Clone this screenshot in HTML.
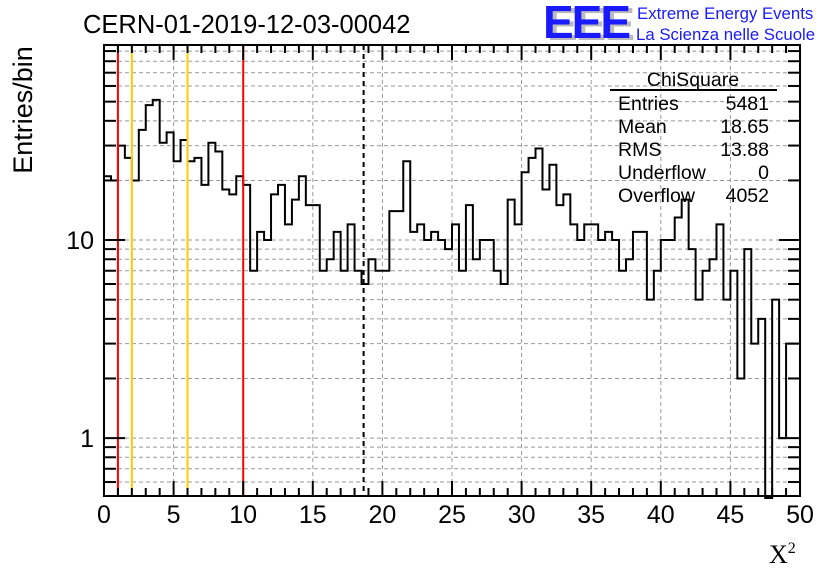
<!DOCTYPE html>
<html><head><meta charset="utf-8"><style>
html,body{margin:0;padding:0;background:#fff;}
svg{display:block;font-family:"Liberation Sans",sans-serif;}
</style></head><body>
<svg id="c" width="836" height="572" viewBox="0 0 836 572">
<text x="83" y="33" font-size="25.5">CERN-01-2019-12-03-00042</text>
<g>
<text x="547" y="40" font-size="46" font-weight="bold" fill="#bbb" letter-spacing="-2">EEE</text>
<text x="543" y="38" font-size="46" font-weight="bold" fill="#1a1aff" letter-spacing="-2">EEE</text>
<text x="637" y="19" font-size="16.8" fill="#1a1aff">Extreme Energy Events</text>
<text x="636" y="40" font-size="16.8" fill="#1a1aff">La Scienza nelle Scuole</text>
</g>
<g id="grid"></g>
<g id="marks"></g>
<g id="axes"></g>
<g font-size="19.5">
<text x="693" y="86" text-anchor="middle">ChiSquare</text>
<line x1="610" y1="90" x2="777" y2="90" stroke="#000" stroke-width="2"/>
<text x="618" y="110">Entries</text><text x="769" y="110" text-anchor="end">5481</text>
<text x="618" y="133">Mean</text><text x="769" y="133" text-anchor="end">18.65</text>
<text x="618" y="156">RMS</text><text x="769" y="156" text-anchor="end">13.88</text>
<text x="618" y="179">Underflow</text><text x="769" y="179" text-anchor="end">0</text>
<text x="618" y="202">Overflow</text><text x="769" y="202" text-anchor="end">4052</text>
</g>
<text x="32" y="110" font-size="27" transform="rotate(-90 32 110)" text-anchor="middle">Entries/bin</text>
<text x="769" y="563" font-size="26" font-family="Liberation Serif, serif">X<tspan font-size="16" dy="-10">2</tspan></text>
</svg>
<script>
const counts=[21,20,30,26,20,36,48,51,31,35,25,32,25,26,19,31,28,18,17,21,19,7,11,10,17,19,12,16,21,15,15,7,8,11,7,12,7,6,8,7,7,14,14,25,11,12,10,11,10,9,12,7,15,8,10,10,7,6,16,12,22,26,29,18,24,15,17,12,10,12,12,10,11,10,7,8,11,11,5,7,10,10,13,16,9,5,7,8,12,5,7,2,9,3,4,0,5,1,3,3];
const xMin=0, xMax=50, binW=0.5;
const xTicks=[0,5,10,15,20,25,30,35,40,45,50];
const yTickLabels=[1,10];
const redCuts=[1,10];
const yellowCuts=[2,6];
const meanVal=18.65;
const L=104,R=800,T=45,B=496,yMinV=0.51,yMaxV=96.6;
const X=v=>L+(v-xMin)/(xMax-xMin)*(R-L);
const Y=v=>B-(Math.log10(v)-Math.log10(yMinV))/(Math.log10(yMaxV)-Math.log10(yMinV))*(B-T);
const NS="http://www.w3.org/2000/svg";
function mk(p,t,a){const e=document.createElementNS(NS,t);for(const k in a)e.setAttribute(k,a[k]);p.appendChild(e);return e;}
const grid=document.getElementById('grid'),marks=document.getElementById('marks'),axes=document.getElementById('axes');
const yMinor=[];for(const d of [0.1,1,10])for(let k=1;k<10;k++){const v=k*d;if(v>=yMinV&&v<=yMaxV)yMinor.push(v);}
yMinor.forEach(v=>{const g=mk(grid,'line',{x1:L,x2:R,y1:Y(v),y2:Y(v),stroke:'#999','stroke-dasharray':'4,3','stroke-width':1});

});
xTicks.forEach(v=>{const g=mk(grid,'line',{x1:X(v),x2:X(v),y1:T,y2:B,stroke:'#999','stroke-dasharray':'4,3','stroke-width':1});

});
let d='';let prev=null;
counts.forEach((c,i)=>{const x0=X(xMin+i*binW),x1=X(xMin+(i+1)*binW);const y=c>0?Y(c):B+2;
if(prev===null)d+=`M${x0},${y}`;else d+=`L${x0},${y}`;d+=`L${x1},${y}`;prev=y;});
const h=mk(marks,'path',{d:d,fill:'none',stroke:'#000','stroke-width':2});


redCuts.forEach(v=>{const l=mk(marks,'line',{x1:X(v),x2:X(v),y1:T,y2:B,stroke:'#f00','stroke-width':2});

});
yellowCuts.forEach(v=>{const l=mk(marks,'line',{x1:X(v),x2:X(v),y1:T,y2:B,stroke:'#fc0','stroke-width':2});

});
const m=mk(marks,'line',{x1:X(meanVal),x2:X(meanVal),y1:T,y2:B,stroke:'#000','stroke-width':2,'stroke-dasharray':'5,4'});


const f=mk(axes,'rect',{x:L,y:T,width:R-L,height:B-T,fill:'none',stroke:'#000','stroke-width':2});


for(let v=xMin;v<=xMax+1e-9;v+=1){const maj=v%5===0;const len=maj?15:8;
mk(axes,'line',{x1:X(v),x2:X(v),y1:B,y2:B-len,stroke:'#000','stroke-width':2});
mk(axes,'line',{x1:X(v),x2:X(v),y1:T,y2:T+len,stroke:'#000','stroke-width':2});}
xTicks.forEach(v=>{const t=mk(axes,'text',{x:X(v),y:523,'font-size':25,'text-anchor':'middle'});t.textContent=v;

});
yMinor.forEach(v=>{const maj=yTickLabels.includes(v);const len=maj?21:12;
mk(axes,'line',{x1:L,x2:L+len,y1:Y(v),y2:Y(v),stroke:'#000','stroke-width':2});
mk(axes,'line',{x1:R,x2:R-len,y1:Y(v),y2:Y(v),stroke:'#000','stroke-width':2});});
yTickLabels.forEach(v=>{const t=mk(axes,'text',{x:94,y:Y(v)+9,'font-size':25,'text-anchor':'end'});t.textContent=v;

});
</script>
</body></html>
